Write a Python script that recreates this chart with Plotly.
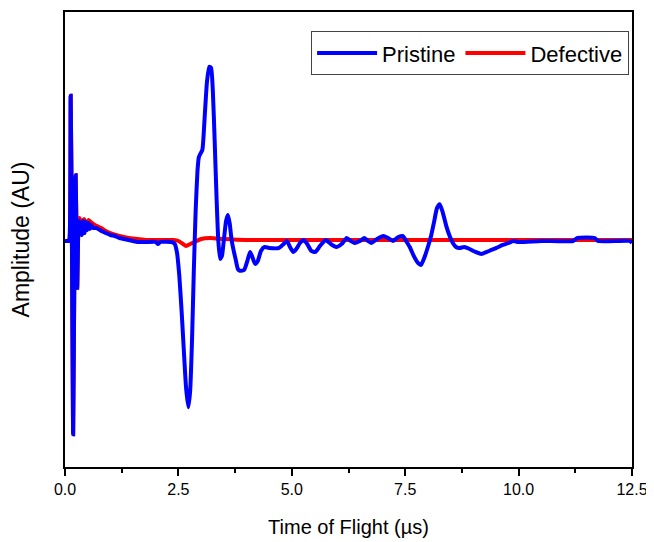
import plotly.graph_objects as go

# Time of flight (µs) and amplitude (arbitrary units)
t_pristine = [0.00, 0.08, 0.10, 0.125, 0.15, 0.18, 0.21, 0.235, 0.255, 0.27, 0.29, 0.31, 0.33,
              0.35, 0.37, 0.40, 0.43, 0.46, 0.49, 0.52, 0.55, 0.58, 0.62, 0.70, 0.80, 0.90,
              1.00, 1.10, 1.20, 1.30, 1.40, 1.50, 1.60, 1.80, 2.00, 2.05, 2.10, 2.35, 2.42,
              2.47, 2.52, 2.57, 2.62, 2.67, 2.72, 2.76, 2.80, 2.84, 2.88, 2.92, 2.95, 2.99,
              3.03, 3.08, 3.13, 3.18, 3.22, 3.26, 3.30, 3.34, 3.38, 3.42, 3.46, 3.50, 3.55,
              3.59, 3.63, 3.67, 3.71, 3.76, 3.81, 3.86, 3.95, 4.02, 4.08, 4.13, 4.19, 4.25,
              4.32, 4.40, 4.50, 4.72, 4.82, 4.89, 4.96, 5.03, 5.10, 5.18, 5.26, 5.34, 5.43,
              5.52, 5.62, 5.75, 5.86, 5.98, 6.10, 6.21, 6.30, 6.38, 6.50, 6.60, 6.68, 6.75,
              6.88, 7.02, 7.12, 7.23, 7.35, 7.45, 7.52, 7.60, 7.70, 7.78, 7.85, 7.92, 8.00,
              8.07, 8.14, 8.20, 8.26, 8.32, 8.40, 8.48, 8.55, 8.62, 8.70, 8.80, 8.92, 9.05,
              9.18, 9.30, 9.40, 9.51, 9.65, 9.78, 9.88, 10.00, 10.50, 11.20, 11.30, 11.68,
              11.75, 12.45, 12.50]
a_pristine = [0.00, 0.00, 0.02, 1.46, 0.20, -1.94, -0.10, 0.66, 0.00, -0.47, 0.05, 0.20, 0.10,
              0.16, 0.06, 0.20, 0.08, 0.19, 0.11, 0.18, 0.12, 0.16, 0.13, 0.13, 0.10, 0.08,
              0.06, 0.05, 0.03, 0.02, 0.01, 0.00, -0.01, -0.01, -0.01, -0.03, -0.01, -0.01, -0.03,
              -0.12, -0.35, -0.70, -1.10, -1.48, -1.67, -1.50, -1.00, -0.30, 0.30, 0.70, 0.84, 0.88,
              0.92, 1.25, 1.60, 1.75, 1.74, 1.50, 1.00, 0.45, 0.00, -0.18, -0.15, 0.00, 0.20,
              0.26, 0.18, 0.02, -0.08, -0.18, -0.28, -0.30, -0.29, -0.20, -0.11, -0.16, -0.23, -0.20,
              -0.10, -0.06, -0.07, -0.07, -0.03, 0.00, -0.06, -0.11, -0.08, -0.02, 0.01, -0.03, -0.10,
              -0.11, -0.05, 0.01, -0.03, -0.06, -0.03, 0.03, 0.00, -0.02, 0.00, 0.03, 0.00, -0.02,
              0.02, 0.05, 0.03, 0.00, 0.04, 0.05, 0.00, -0.06, -0.16, -0.22, -0.24, -0.17, -0.06,
              0.05, 0.20, 0.33, 0.37, 0.30, 0.16, 0.05, -0.02, -0.06, -0.07, -0.06, -0.08, -0.11,
              -0.13, -0.11, -0.09, -0.07, -0.04, -0.02, 0.00, -0.01, 0.00, 0.00, 0.03, 0.03,
              0.00, 0.00, -0.02]

t_defective = [0.00, 0.08, 0.10, 0.125, 0.15, 0.18, 0.21, 0.235, 0.255, 0.27, 0.29, 0.32, 0.36,
               0.42, 0.47, 0.52, 0.60, 0.70, 0.80, 0.90, 1.00, 1.20, 1.40, 1.60, 1.80, 2.00,
               2.40, 2.50, 2.60, 2.67, 2.76, 2.90, 3.00, 3.20, 3.50, 4.00, 5.00, 7.00, 9.00,
               11.00, 12.50]
a_defective = [0.00, 0.00, 0.02, 1.46, 0.20, -1.94, -0.10, 0.66, 0.00, -0.47, 0.05, 0.23, 0.18,
               0.22, 0.17, 0.21, 0.18, 0.15, 0.13, 0.10, 0.08, 0.05, 0.03, 0.02, 0.01, 0.01,
               0.01, 0.00, -0.03, -0.05, -0.03, 0.00, 0.02, 0.03, 0.02, 0.01, 0.01, 0.01, 0.01,
               0.01, 0.01]

x_ticks = [0.0, 2.5, 5.0, 7.5, 10.0, 12.5]
x_minor = [1.25, 3.75, 6.25, 8.75, 11.25]

fig = go.Figure()
fig.add_trace(go.Scatter(x=t_defective, y=a_defective, mode="lines", name="Defective",
                         line=dict(color="#ff0000", width=4, shape="spline", smoothing=0.5)))
fig.add_trace(go.Scatter(x=t_pristine, y=a_pristine, mode="lines", name="Pristine",
                         line=dict(color="#0000ff", width=4, shape="spline", smoothing=0.5)))

fig.update_layout(
    width=654, height=542,
    margin=dict(l=57, r=30, t=2, b=83),
    paper_bgcolor="white", plot_bgcolor="white",
    font=dict(family="Liberation Sans, Arial, sans-serif", color="black"),
    showlegend=True,
    legend=dict(orientation="h", x=0.434, y=0.958, xanchor="left", yanchor="top",
                bordercolor="#444", borderwidth=1, bgcolor="white", itemwidth=60,
                font=dict(size=22), traceorder="reversed"),
    xaxis=dict(range=[0, 12.5], tickvals=x_ticks, ticktext=[f"{v:.1f}" for v in x_ticks],
               showline=True, linecolor="black", linewidth=1.5, mirror=True,
               ticks="outside", ticklen=7, tickwidth=1.5, tickcolor="black",
               minor=dict(tickvals=x_minor, ticks="outside",
                          ticklen=4, tickwidth=1.5, tickcolor="black"),
               showgrid=False, zeroline=False, tickfont=dict(size=16),
               title=dict(text="Time of Flight (µs)", font=dict(size=20), standoff=23)),
    yaxis=dict(range=[-2.27, 2.30], showticklabels=False, ticks="",
               showline=True, linecolor="black", linewidth=1.5, mirror=True,
               showgrid=False, zeroline=False,
               title=dict(text="Amplitude (AU)", font=dict(size=23), standoff=28)),
)

fig.write_html("out.html")
